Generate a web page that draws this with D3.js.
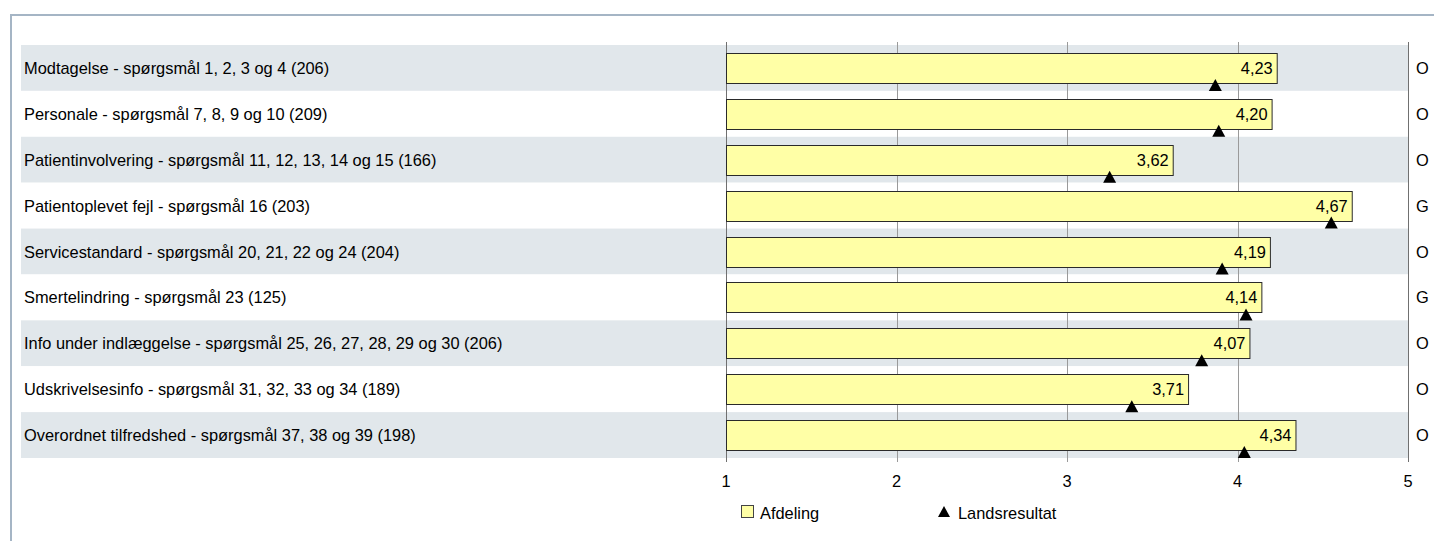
<!DOCTYPE html>
<html>
<head>
<meta charset="utf-8">
<script src="https://cdn.jsdelivr.net/npm/d3@7"></script>
<style>
  body { margin: 0; background: #fff; }
  svg { display: block; font-family: "Liberation Sans", Arial, sans-serif; }
</style>
</head>
<body>
<div id="chart"></div>
<script>
var categories = [
  "Modtagelse - spørgsmål 1, 2, 3 og 4 (206)",
  "Personale - spørgsmål 7, 8, 9 og 10 (209)",
  "Patientinvolvering - spørgsmål 11, 12, 13, 14 og 15 (166)",
  "Patientoplevet fejl - spørgsmål 16 (203)",
  "Servicestandard - spørgsmål 20, 21, 22 og 24 (204)",
  "Smertelindring - spørgsmål 23 (125)",
  "Info under indlæggelse - spørgsmål 25, 26, 27, 28, 29 og 30 (206)",
  "Udskrivelsesinfo - spørgsmål 31, 32, 33 og 34 (189)",
  "Overordnet tilfredshed - spørgsmål 37, 38 og 39 (198)"
];
var afdeling = [4.23, 4.20, 3.62, 4.67, 4.19, 4.14, 4.07, 3.71, 4.34];
var landsresultat = [3.87, 3.89, 3.25, 4.55, 3.91, 4.05, 3.79, 3.38, 4.04];
var flags = ["O", "O", "O", "G", "O", "G", "O", "O", "O"];
var ticks = [1, 2, 3, 4, 5];

var width = 1434, height = 541;
var fontSize = 16.4;
var svg = d3.select( "#chart" ).append( "svg" )
  .attr( "width", width ).attr( "height", height );

// frame
svg.append( "path" )
  .attr( "d", "M11,541 V15 H1434" )
  .attr( "fill", "none" )
  .attr( "stroke", "#a5b5c5" )
  .attr( "stroke-width", 2 );

var x = d3.scaleLinear().domain( [ 1, 5 ] ).range( [ 726, 1408 ] );
var y = d3.scaleBand().domain( categories ).range( [ 45, 458 ] );
var mid = function( i ) { return y( categories[ i ] ) + y.bandwidth() / 2; };
var fmt = function( v ) { return d3.format( ".2f" )( v ).replace( ".", "," ); };

// row bands
svg.append( "g" ).selectAll( "rect" ).data( categories ).join( "rect" )
  .attr( "x", 21 )
  .attr( "y", function( d ) { return y( d ); } )
  .attr( "width", x( 5 ) - 21 )
  .attr( "height", y.bandwidth() )
  .attr( "fill", function( d, i ) { return i % 2 === 0 ? "#e1e7eb" : "#ffffff"; } );

// grid lines
svg.append( "g" ).selectAll( "line" ).data( ticks ).join( "line" )
  .attr( "x1", function( d ) { return Math.round( x( d ) ) + 0.5; } )
  .attr( "x2", function( d ) { return Math.round( x( d ) ) + 0.5; } )
  .attr( "y1", 42 )
  .attr( "y2", 462 )
  .attr( "stroke", function( d ) { return d === 1 || d === 5 ? "#707070" : "#9a9a9a"; } )
  .attr( "stroke-width", 1 );

// tick labels
svg.append( "g" ).selectAll( "text" ).data( ticks ).join( "text" )
  .attr( "x", function( d ) { return x( d ); } )
  .attr( "y", 487 )
  .attr( "text-anchor", "middle" )
  .attr( "font-size", fontSize )
  .attr( "fill", "#000" )
  .text( function( d ) { return d; } );

// category labels
svg.append( "g" ).selectAll( "text" ).data( categories ).join( "text" )
  .attr( "x", 24 )
  .attr( "y", function( d, i ) { return mid( i ) + 6; } )
  .attr( "font-size", fontSize )
  .attr( "fill", "#000" )
  .text( function( d ) { return d; } );

// bars
var barH = 30;
svg.append( "g" ).selectAll( "rect" ).data( afdeling ).join( "rect" )
  .attr( "x", Math.round( x( 1 ) ) + 0.5 )
  .attr( "y", function( d, i ) { return Math.round( mid( i ) - barH / 2 ) + 0.5; } )
  .attr( "width", function( d ) { return x( d ) - x( 1 ); } )
  .attr( "height", barH )
  .attr( "fill", "#ffffa6" )
  .attr( "stroke", "#2a2a2a" )
  .attr( "stroke-width", 1 );

// value labels
svg.append( "g" ).selectAll( "text" ).data( afdeling ).join( "text" )
  .attr( "x", function( d ) { return x( d ) - 4; } )
  .attr( "y", function( d, i ) { return mid( i ) + 6; } )
  .attr( "text-anchor", "end" )
  .attr( "font-size", fontSize )
  .attr( "fill", "#000" )
  .text( fmt );

// national result triangles
svg.append( "g" ).selectAll( "path" ).data( landsresultat ).join( "path" )
  .attr( "transform", function( d, i ) { return "translate(" + x( d ) + "," + mid( i ) + ")"; } )
  .attr( "d", "M0,11 L6.5,23 L-6.5,23 Z" )
  .attr( "fill", "#000" );

// right flags
svg.append( "g" ).selectAll( "text" ).data( flags ).join( "text" )
  .attr( "x", 1416 )
  .attr( "y", function( d, i ) { return mid( i ) + 6; } )
  .attr( "font-size", fontSize )
  .attr( "fill", "#000" )
  .text( function( d ) { return d; } );

// legend
var legend = svg.append( "g" );
legend.append( "rect" )
  .attr( "x", 741.5 ).attr( "y", 505.5 )
  .attr( "width", 12 ).attr( "height", 12 )
  .attr( "fill", "#ffffa6" ).attr( "stroke", "#444" );
legend.append( "text" )
  .attr( "x", 760 ).attr( "y", 519 )
  .attr( "font-size", fontSize )
  .text( "Afdeling" );
legend.append( "path" )
  .attr( "d", "M944,506 L950,517 L938,517 Z" )
  .attr( "fill", "#000" );
legend.append( "text" )
  .attr( "x", 958 ).attr( "y", 519 )
  .attr( "font-size", fontSize )
  .text( "Landsresultat" );
</script>
</body>
</html>
